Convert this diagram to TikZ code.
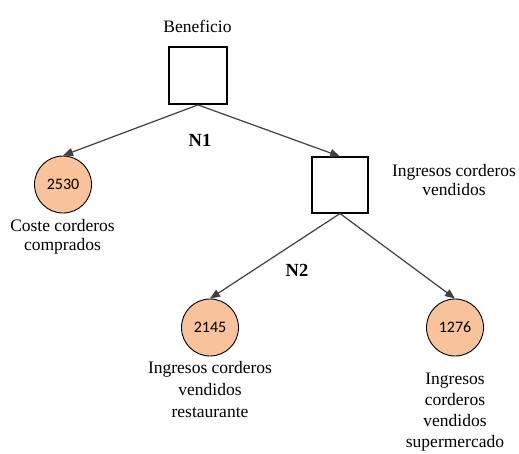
\documentclass[tikz,border=0pt]{standalone}
\usepackage{fontspec}
\setmainfont{Liberation Serif}
\newfontfamily\numfont{Carlito}
\usetikzlibrary{arrows.meta}
\definecolor{peach}{HTML}{F8C39B}
\definecolor{linkgray}{HTML}{404040}
\tikzset{
  decision/.style={draw=black, line width=#1, minimum size=56pt, inner sep=0pt},
  chance/.style={circle, draw=black, line width=0.9pt, fill=peach, minimum size=57pt,
    inner sep=0pt, font=\numfont\fontsize{16}{19}\selectfont},
  label/.style={align=center, inner sep=0pt, anchor=base},
  link/.style={draw=linkgray, line width=1.2pt, -{Triangle[length=10pt,width=8pt]}},
  level/.style={font=\bfseries\fontsize{18.5}{22}\selectfont, inner sep=0pt}
}
\begin{document}
\begin{tikzpicture}[x=1pt, y=-1pt, font=\fontsize{17.5}{19}\selectfont]
  \useasboundingbox (0,0) rectangle (519,453);

  % decision nodes
  \node[decision=1.8pt, minimum width=58pt, minimum height=57pt] (root) at (198,75.5) {};
  \node[decision=1.1pt] (sold) at (340,185) {};

  % chance nodes
  \node[chance] (bought) at (63,184.5) {2530};
  \node[chance] (rest) at (210,327.5) {2145};
  \node[chance] (super) at (455,327.5) {1276};

  % labels (anchored at the baseline of their last line)
  \node[label] (lroot) at (197.5,32) {Beneficio};
  \node[label] (lbought) at (62.5,250) {Coste corderos\\comprados};
  \node[label] (lsold) at (454,195) {Ingresos corderos\\vendidos};
  \node[label, font=\fontsize{17.5}{22}\selectfont] (lrest) at (210,417) {Ingresos corderos\\vendidos\\restaurante};
  \node[label, font=\fontsize{17.5}{21}\selectfont] (lsuper) at (455,447) {Ingresos\\corderos\\vendidos\\supermercado};

  % level marks
  \node[level] (n1) at (200,140) {N1};
  \node[level] (n2) at (297,270) {N2};

  % connectors
  \draw[link] (root.south) -- (bought.north);
  \draw[link] (root.south) -- (sold.north);
  \draw[link] (sold.south) -- (rest.north);
  \draw[link] (sold.south) -- (super.north);
\end{tikzpicture}
\end{document}
